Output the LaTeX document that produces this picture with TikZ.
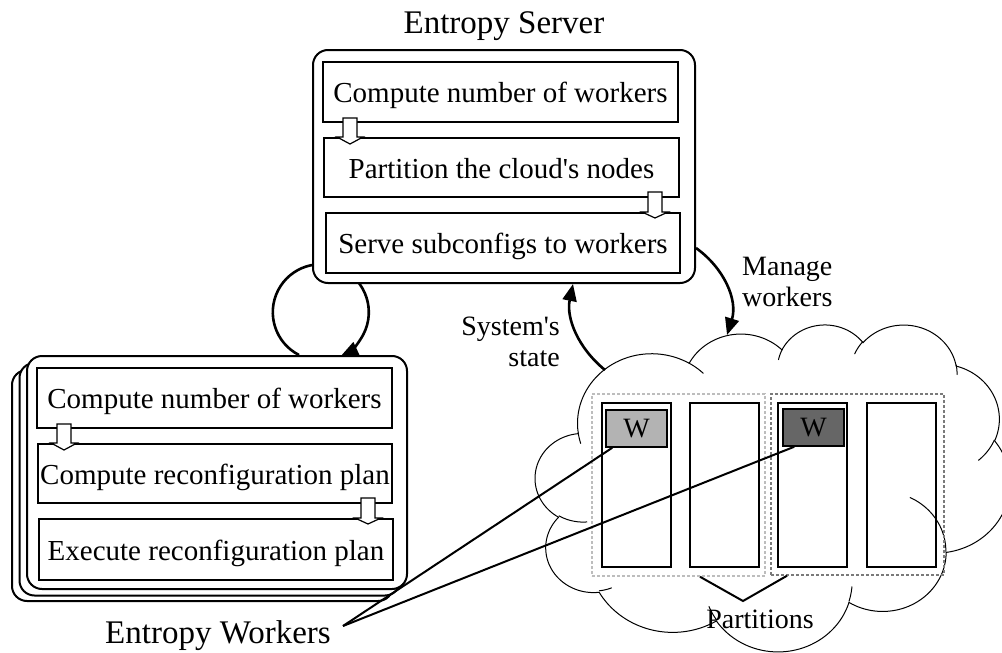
\documentclass[tikz,border=0pt]{standalone}
\usepackage{fontspec}
\setmainfont{Liberation Serif}[Ligatures=TeXOff]
\usetikzlibrary{arrows.meta}
\definecolor{lightpart}{HTML}{BDBDBD}
\definecolor{darkpart}{HTML}{7A7A7A}
\definecolor{wlight}{HTML}{B3B3B3}
\definecolor{wdark}{HTML}{666666}
\newcommand\hollowarrow[4]{\draw[hollow] (#1-7,-#2) -- (#1-7,-#3) -- (#1-13,-#3) -- (#1,-#4) -- (#1+13,-#3) -- (#1+7,-#3) -- (#1+7,-#2) -- cycle;}
\begin{document}
\begin{tikzpicture}[x=1pt,y=1pt,
  inbox/.style={draw, line width=1.6pt, inner sep=0pt, text height=21pt, text depth=0pt, font=\fontsize{29}{32}\selectfont},
  outerbox/.style={draw, fill=white, line width=2pt, rounded corners=15pt, inner sep=0pt},
  lbl/.style={font=\fontsize{28}{31}\selectfont, inner sep=0pt},
  titletxt/.style={font=\fontsize{33}{36}\selectfont, inner sep=0pt},
  bigarrow/.style={line width=2.6pt, -{Triangle[length=17pt,width=14pt]}},
  hollow/.style={draw, fill=white, line width=1.2pt, line join=miter},
  col/.style={draw, line width=2pt, inner sep=0pt, minimum width=69pt, minimum height=164pt},
  wbox/.style={draw, line width=1.5pt, inner sep=0pt, minimum width=61pt, minimum height=37pt, text height=18pt, text depth=0pt, font=\fontsize{28}{30}\selectfont},
  part/.style={draw, dash pattern=on 3pt off 2pt, line width=1.5pt, inner sep=0pt, minimum width=173pt},
  thinline/.style={line width=2pt},
  cloudline/.style={line width=1pt, line cap=round}]
\useasboundingbox (0,0) rectangle (1002,-653);

% ---------- worker stack ----------
\node[outerbox, minimum width=381pt, minimum height=231pt] (wk) at (202.5,-485.5) {};
\node[outerbox, minimum width=380.5pt, minimum height=232.5pt] (wm) at (209.75,-479.25) {};
\node[outerbox, minimum width=380pt, minimum height=233pt] (wf) at (217,-472.5) {};
\node[inbox, minimum width=355pt, minimum height=60pt] (w1) at (214.5,-398) {Compute number of workers};
\node[inbox, minimum width=354pt, minimum height=59pt] (w2) at (215,-473.5) {Compute reconfiguration plan};
\node[inbox, minimum width=354pt, minimum height=61pt] (w3) at (216,-549.5) {Execute reconfiguration plan};
\hollowarrow{64}{424}{443}{450}
\hollowarrow{368}{498}{518}{524}

% ---------- loop arrow ----------
\draw[bigarrow] ([xshift=82pt]wf.north) arc[start angle=243, end angle=-65, radius=48pt];

% ---------- server ----------
\node[titletxt, anchor=base] (st) at (504,-33) {Entropy Server};
\node[outerbox, minimum width=382pt, minimum height=233pt] (srv) at (504,-166.5) {};
\node[inbox, minimum width=355pt, minimum height=60pt] (s1) at (500.5,-92) {Compute number of workers};
\node[inbox, minimum width=355pt, minimum height=59pt] (s2) at (501.5,-167.5) {Partition the cloud's nodes};
\node[inbox, minimum width=354pt, minimum height=60pt] (s3) at (503,-243) {Serve subconfigs to workers};
\hollowarrow{350}{118}{137}{144}
\hollowarrow{655}{192}{212}{218}

% ---------- cloud ----------
\begin{scope}[shift={(535.35pt,-323.9pt)}, x=0.10982pt, y=-0.07566pt]
\foreach \cx/\cy/\rx/\ry/\ta/\tb in {
  1059.14/1313.15/675.3/919.0/172.254/300.364,
  1871.60/860.98/533.3/726.7/-152.035/-45.434,
  2636.52/608.57/436.5/594.5/-153.500/-37.301,
  3354.22/674.73/485.7/659.5/-139.711/-10.212,
  3692.12/1259.55/533.3/727.3/-74.767/23.210,
  3645.05/2107.94/677.5/922.0/-37.528/81.862,
  3162.48/3014.35/578.5/786.7/0.4596/121.980,
  2209.86/3414.64/675.2/921.5/16.844/146.222,
  1250.83/3023.45/772.0/1054.3/58.985/150.194,
  530.15/2959.78/436.0/591.8/83.306/223.086,
  431.27/2042.56/434.5/594.5/120.349/264.112,
  435.56/2025.0/434.5/594.5/85.546/120.349,
  531.56/2940.06/436.0/591.8/68.296/83.306,
  2209.02/3396.65/675.2/921.5/146.222/158.473,
  2209.81/3398.98/675.2/921.5/4.738/16.844,
  3159.55/3002.64/578.5/786.7/-64.029/0.4596,
  3689.65/1248.78/533.3/727.3/23.210/49.637,
  3354.39/659.53/485.7/659.5/-10.212/0.821,
  3352.49/660.43/485.7/659.5/-156.285/-139.711,
  2640.62/598.40/436.5/594.5/-167.726/-153.5,
  1058.58/1312.09/675.3/919.0/-59.636/-45.757,
  1059.16/1313.17/675.3/919.0/163.194/172.251}
  \draw[cloudline] plot[domain=\ta:\tb, samples=40, variable=\t] ({\cx+\rx*cos(\t)},{\cy+\ry*sin(\t)});
\end{scope}

% partitions
\node[part, draw=lightpart, minimum height=182pt] (p1) at (678.5,-485) {};
\node[part, draw=darkpart, minimum height=181pt] (p2) at (857.5,-484.5) {};
\node[col] (c1) at (636.5,-485) {};
\node[col] (c2) at (724.5,-485) {};
\node[col] (c3) at (812.5,-485) {};
\node[col] (c4) at (901.5,-485) {};
\node[wbox, fill=wlight] (wa) at (636.5,-428.5) {W};
\node[wbox, fill=wdark] (wb) at (813.5,-427.5) {W};

\coordinate (apex) at (743,-601);
\draw[thinline] ([xshift=21.5pt]p1.south) -- (apex) -- ([xshift=-70.5pt]p2.south);
\node[lbl, anchor=base] (pl) at (760,-628) {Partitions};

% Entropy workers label
\node[titletxt, anchor=base] (ew) at (218,-643) {Entropy Workers};
\coordinate (ewtip) at (343,-626);
\draw[thinline] (ewtip) -- ([xshift=7pt]wa.south west);
\draw[thinline] (ewtip) -- ([xshift=12pt]wb.south west);

% curved arrows
\coordinate (cloudtop) at (727,-335);
\coordinate (cloudleft) at (605,-370);
\draw[bigarrow] (srv.-23.6) .. controls (724,-268) and (738,-300) .. (cloudtop);
\draw[bigarrow] (cloudleft) .. controls (578,-348) and (566,-318) .. ([xshift=69pt]srv.south);
\node[lbl, anchor=west, align=left] (mw) at (742,-281.5) {Manage\\workers};
\node[lbl, anchor=east, align=right] (ss) at (560,-341.5) {System's\\state};
\end{tikzpicture}
\end{document}
